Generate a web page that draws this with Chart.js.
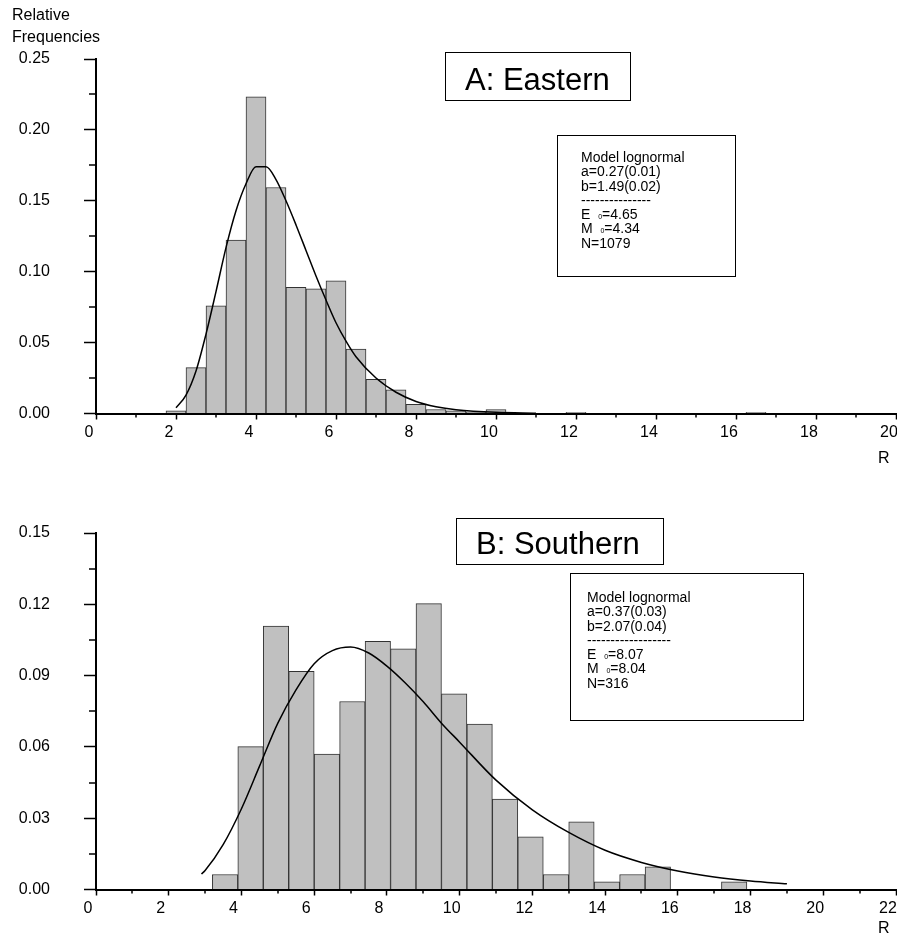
<!DOCTYPE html>
<html>
<head>
<meta charset="utf-8">
<script src="https://cdn.jsdelivr.net/npm/chart.js@4.4.1/dist/chart.umd.min.js"></script>
<style>
  body { margin: 0; width: 897px; height: 937px; position: relative; background: #fff; overflow: hidden;
         font-family: "Liberation Sans", Arial, sans-serif; color: #000; }
  canvas { position: absolute; left: 0; }
  .txt { position: absolute; line-height: 1; white-space: nowrap; }
  .box { position: absolute; box-sizing: border-box; border: 1px solid #000; }
  .legend { position: absolute; box-sizing: border-box; border: 1.5px solid #000; }
  .legend-text { position: absolute; font-size: 14px; line-height: 14.3px; white-space: nowrap; }
  .sub { font-size: 7px; line-height: 0; }
</style>
</head>
<body>
<canvas id="chartA" width="897" height="470" style="top:0"></canvas>
<canvas id="chartB" width="897" height="467" style="top:470px"></canvas>

<div class="txt" style="left:12px; top:6.5px; font-size:16px">Relative</div>
<div class="txt" style="left:12px; top:28.5px; font-size:16px">Frequencies</div>
<div class="txt" style="left:878px; top:449.5px; font-size:16px">R</div>
<div class="txt" style="left:878px; top:920px; font-size:16px">R</div>

<div class="box" style="left:445px; top:52px; width:186px; height:49px"></div>
<div class="txt" style="left:465px; top:64px; font-size:31px">A: Eastern</div>
<div class="box" style="left:456px; top:518px; width:208px; height:47px"></div>
<div class="txt" style="left:476px; top:527.5px; font-size:31px">B: Southern</div>

<div class="legend" style="left:557px; top:135px; width:179px; height:142px"></div>
<div class="legend-text" style="left:581px; top:150px">
  Model lognormal<br>a=0.27(0.01)<br>b=1.49(0.02)<br>---------------<br>E&nbsp; <span class="sub">0</span>=4.65<br>M&nbsp; <span class="sub">0</span>=4.34<br>N=1079
</div>
<div class="legend" style="left:570px; top:573px; width:234px; height:148px"></div>
<div class="legend-text" style="left:587px; top:590px">
  Model lognormal<br>a=0.37(0.03)<br>b=2.07(0.04)<br>------------------<br>E&nbsp; <span class="sub">0</span>=8.07<br>M&nbsp; <span class="sub">0</span>=8.04<br>N=316
</div>

<script>
// A: Eastern - histogram bins (bin centres, width 0.5) and relative frequencies
const binsA = [2.0, 2.5, 3.0, 3.5, 4.0, 4.5, 5.0, 5.5, 6.0, 6.5, 7.0, 7.5, 8.0, 8.5, 9.0, 9.5, 10.0, 12.0, 16.5];
const freqA = [0.0019, 0.0324, 0.0760, 0.1223, 0.2234, 0.1594, 0.0890, 0.0880, 0.0936, 0.0454,
               0.0241, 0.0167, 0.0065, 0.0028, 0.0019, 0.0009, 0.0028, 0.0009, 0.0009];
// fitted lognormal curve
const curveRA = [2.0, 2.25, 2.5, 2.75, 3.0, 3.25, 3.5, 3.75, 4.0, 4.25, 4.5, 4.75, 5.0, 5.25, 5.5,
                 5.75, 6.0, 6.25, 6.5, 7.0, 7.5, 8.0, 8.5, 9.0, 10.0, 11.0];
const curveFA = [0.004, 0.013, 0.030, 0.056, 0.086, 0.117, 0.143, 0.162, 0.174, 0.174, 0.165, 0.150, 0.133, 0.115, 0.097,
                 0.080, 0.064, 0.051, 0.040, 0.025, 0.015, 0.0085, 0.0048, 0.0027, 0.0008, 0.0002];
const minorXA = [1, 3, 5, 7, 9, 11, 13, 15, 17, 19];
const minorYA = [0.025, 0.075, 0.125, 0.175, 0.225];

// B: Southern - histogram bins (bin centres, width 0.7)
const binsB = [3.55, 4.25, 4.95, 5.65, 6.35, 7.05, 7.75, 8.45, 9.15, 9.85, 10.55, 11.25, 11.95, 12.65,
               13.35, 14.05, 14.75, 15.45, 17.55];
const freqB = [0.0063, 0.0601, 0.1108, 0.0918, 0.0570, 0.0791, 0.1044, 0.1013, 0.1203, 0.0823, 0.0696,
               0.0380, 0.0222, 0.0063, 0.0285, 0.0032, 0.0063, 0.0095, 0.0032];
const curveRB = [2.9, 3.0, 3.5, 4.0, 4.5, 5.0, 5.5, 6.0, 6.5, 7.0, 7.5, 8.0, 8.5, 9.0, 9.5, 10.0,
                 11.0, 12.0, 13.0, 14.0, 15.0, 16.0, 17.0, 18.0, 19.0];
const curveFB = [0.0065, 0.008, 0.019, 0.034, 0.052, 0.070, 0.084, 0.095, 0.1005, 0.102, 0.0995, 0.094, 0.087, 0.079, 0.070, 0.062,
                 0.046, 0.0335, 0.024, 0.0165, 0.0114, 0.0078, 0.0053, 0.0036, 0.0024];
const minorXB = [1, 3, 5, 7, 9, 11, 13, 15, 17, 19, 21];
const minorYB = [0.015, 0.045, 0.075, 0.105, 0.135];

const FONT = '"Liberation Sans", Arial, sans-serif';

// small unlabeled ticks between the labelled ones
const minorTicks = {
    id: 'minorTicks',
    afterDraw(chart, args, opts) {
        const { ctx, chartArea, scales } = chart;
        ctx.save();
        ctx.strokeStyle = '#000';
        ctx.lineWidth = 1.5;
        ctx.beginPath();
        opts.x.forEach((v) => {
            const px = Math.round(scales.x.getPixelForValue(v));
            ctx.moveTo(px, chartArea.bottom);
            ctx.lineTo(px, chartArea.bottom + 4);
        });
        opts.y.forEach((v) => {
            const py = Math.round(scales.y.getPixelForValue(v));
            ctx.moveTo(chartArea.left - 7, py);
            ctx.lineTo(chartArea.left, py);
        });
        ctx.stroke();
        ctx.restore();
    }
};

function makeHistogram(canvasId, s) {
    const ctx = document.getElementById(canvasId).getContext('2d');
    return new Chart(ctx, {
        type: 'bar',
        data: {
            datasets: [
                {
                    type: 'line',
                    data: s.curveR.map((r, i) => ({ x: r, y: s.curveF[i] })),
                    borderColor: '#000',
                    borderWidth: 1.5,
                    pointRadius: 0,
                    cubicInterpolationMode: 'monotone',
                    fill: false,
                },
                {
                    type: 'bar',
                    data: s.bins.map((b, i) => ({ x: b, y: s.freq[i] })),
                    backgroundColor: '#c0c0c0',
                    borderColor: '#333',
                    borderWidth: { top: 1, left: 1, right: 1, bottom: 0 },
                    borderSkipped: false,
                    categoryPercentage: 1.0,
                    barPercentage: 1.0,
                },
            ],
        },
        options: {
            responsive: false,
            animation: false,
            devicePixelRatio: 1,
            layout: { padding: { top: s.padTop, left: 0, right: 1, bottom: 0 } },
            plugins: {
                legend: { display: false },
                tooltip: { enabled: false },
                minorTicks: { x: s.minorX, y: s.minorY },
            },
            scales: {
                x: {
                    type: 'linear',
                    offset: false,
                    min: 0,
                    max: s.xMax,
                    ticks: {
                        stepSize: 2,
                        color: '#000',
                        font: { family: FONT, size: 16 },
                        labelOffset: s.labelShift,
                        padding: 3,
                        maxRotation: 0,
                    },
                    grid: { offset: false, drawOnChartArea: false, tickLength: 6, color: '#000', tickWidth: 1.5 },
                    border: { display: true, color: '#000', width: 2 },
                    afterFit: (scale) => {
                        scale.height = s.xHeight;
                        scale.paddingLeft = 0;
                        scale.paddingRight = 0;
                    },
                },
                y: {
                    min: 0,
                    max: s.yMax,
                    ticks: {
                        stepSize: s.yStep,
                        color: '#000',
                        font: { family: FONT, size: 16 },
                        padding: 34,
                        callback: (v) => v.toFixed(2),
                    },
                    grid: { drawOnChartArea: false, tickLength: 12, color: '#000', tickWidth: 1.5 },
                    border: { display: true, color: '#000', width: 2 },
                    afterFit: (scale) => {
                        scale.width = 96;
                    },
                },
            },
        },
        plugins: [minorTicks],
    });
}

makeHistogram('chartA', {
    bins: binsA, freq: freqA, curveR: curveRA, curveF: curveFA,
    minorX: minorXA, minorY: minorYA,
    xMax: 20, yMax: 0.25, yStep: 0.05, padTop: 59, xHeight: 56.5, labelShift: -7,
});

makeHistogram('chartB', {
    bins: binsB, freq: freqB, curveR: curveRB, curveF: curveFB,
    minorX: minorXB, minorY: minorYB,
    xMax: 22, yMax: 0.15, yStep: 0.03, padTop: 63, xHeight: 47.5, labelShift: -8,
});
</script>
</body>
</html>
